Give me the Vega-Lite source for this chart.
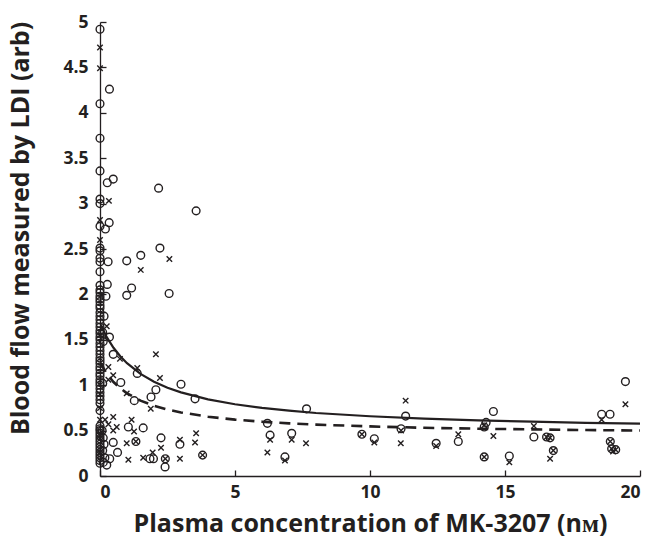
{
  "$schema": "https://vega.github.io/schema/vega-lite/v6.json",
  "autosize": {"type": "none"},
  "padding": {"left": 100, "top": 22, "right": 14, "bottom": 64},
  "width": 540,
  "height": 454,
  "background": "white",
  "config": {
    "view": {"stroke": null},
    "axis": {
      "grid": false,
      "domainColor": "#231f20",
      "domainWidth": 1.3,
      "tickColor": "#231f20",
      "tickWidth": 1.3,
      "labelColor": "#231f20",
      "labelFont": "Open Sans",
      "labelFontWeight": "bold",
      "labelFontSize": 17.5,
      "titleColor": "#231f20",
      "titleFont": "Open Sans",
      "titleFontWeight": "bold",
      "titleFontSize": 25
    }
  },
  "datasets": {
    "points": [
      {"x": 0, "y": 4.92, "g": "o"}, {"x": 0, "y": 4.10, "g": "o"}, {"x": 0, "y": 3.72, "g": "o"}, {"x": 0, "y": 3.36, "g": "o"},
      {"x": 0, "y": 3.05, "g": "o"}, {"x": 0, "y": 3.0, "g": "o"}, {"x": 0, "y": 2.75, "g": "o"}, {"x": 0, "y": 2.51, "g": "o"},
      {"x": 0, "y": 2.48, "g": "o"}, {"x": 0, "y": 2.40, "g": "o"}, {"x": 0, "y": 2.36, "g": "o"}, {"x": 0, "y": 2.25, "g": "o"},
      {"x": 0, "y": 2.10, "g": "o"}, {"x": 0, "y": 2.05, "g": "o"}, {"x": 0, "y": 2.02, "g": "o"}, {"x": 0, "y": 1.98, "g": "o"},
      {"x": 0, "y": 1.95, "g": "o"}, {"x": 0, "y": 1.92, "g": "o"}, {"x": 0, "y": 1.88, "g": "o"}, {"x": 0, "y": 1.85, "g": "o"},
      {"x": 0, "y": 1.80, "g": "o"}, {"x": 0, "y": 1.76, "g": "o"}, {"x": 0, "y": 1.72, "g": "o"}, {"x": 0, "y": 1.68, "g": "o"},
      {"x": 0, "y": 1.64, "g": "o"}, {"x": 0, "y": 1.60, "g": "o"}, {"x": 0, "y": 1.57, "g": "o"}, {"x": 0, "y": 1.53, "g": "o"},
      {"x": 0, "y": 1.50, "g": "o"}, {"x": 0, "y": 1.46, "g": "o"}, {"x": 0, "y": 1.42, "g": "o"}, {"x": 0, "y": 1.38, "g": "o"},
      {"x": 0, "y": 1.34, "g": "o"}, {"x": 0, "y": 1.30, "g": "o"}, {"x": 0, "y": 1.27, "g": "o"}, {"x": 0, "y": 1.24, "g": "o"},
      {"x": 0, "y": 1.20, "g": "o"}, {"x": 0, "y": 1.17, "g": "o"}, {"x": 0, "y": 1.13, "g": "o"}, {"x": 0, "y": 1.10, "g": "o"},
      {"x": 0, "y": 1.06, "g": "o"}, {"x": 0, "y": 1.03, "g": "o"}, {"x": 0, "y": 1.00, "g": "o"}, {"x": 0, "y": 0.96, "g": "o"},
      {"x": 0, "y": 0.92, "g": "o"}, {"x": 0, "y": 0.88, "g": "o"}, {"x": 0, "y": 0.84, "g": "o"}, {"x": 0, "y": 0.80, "g": "o"},
      {"x": 0, "y": 0.72, "g": "o"}, {"x": 0, "y": 0.55, "g": "o"}, {"x": 0, "y": 0.52, "g": "o"}, {"x": 0, "y": 0.50, "g": "o"},
      {"x": 0, "y": 0.47, "g": "o"}, {"x": 0, "y": 0.44, "g": "o"}, {"x": 0, "y": 0.41, "g": "o"}, {"x": 0, "y": 0.38, "g": "o"},
      {"x": 0, "y": 0.35, "g": "o"}, {"x": 0, "y": 0.32, "g": "o"}, {"x": 0, "y": 0.29, "g": "o"}, {"x": 0, "y": 0.26, "g": "o"},
      {"x": 0, "y": 0.23, "g": "o"}, {"x": 0, "y": 0.20, "g": "o"}, {"x": 0, "y": 0.17, "g": "o"}, {"x": 0, "y": 0.14, "g": "o"},
      {"x": 0.1, "y": 1.58, "g": "o"}, {"x": 0.12, "y": 1.48, "g": "o"}, {"x": 0.1, "y": 1.02, "g": "o"}, {"x": 0.08, "y": 0.5, "g": "o"},
      {"x": 0.12, "y": 0.42, "g": "o"}, {"x": 0.15, "y": 0.35, "g": "o"}, {"x": 0.1, "y": 0.28, "g": "o"}, {"x": 0.18, "y": 0.2, "g": "o"},
      {"x": 0.12, "y": 0.15, "g": "o"},
      {"x": 0.35, "y": 4.26, "g": "o"}, {"x": 0.27, "y": 3.23, "g": "o"}, {"x": 0.49, "y": 3.27, "g": "o"}, {"x": 2.17, "y": 3.17, "g": "o"},
      {"x": 3.56, "y": 2.92, "g": "o"}, {"x": 0.34, "y": 2.79, "g": "o"}, {"x": 0.2, "y": 2.72, "g": "o"}, {"x": 2.22, "y": 2.51, "g": "o"},
      {"x": 1.51, "y": 2.43, "g": "o"}, {"x": 0.99, "y": 2.37, "g": "o"}, {"x": 0.3, "y": 2.36, "g": "o"}, {"x": 0.27, "y": 2.11, "g": "o"},
      {"x": 1.17, "y": 2.07, "g": "o"}, {"x": 0.99, "y": 1.99, "g": "o"}, {"x": 0.22, "y": 1.98, "g": "o"}, {"x": 2.56, "y": 2.01, "g": "o"},
      {"x": 0.15, "y": 1.76, "g": "o"}, {"x": 0.35, "y": 1.53, "g": "o"}, {"x": 0.49, "y": 1.34, "g": "o"}, {"x": 1.38, "y": 1.13, "g": "o"},
      {"x": 0.77, "y": 1.03, "g": "o"}, {"x": 3.0, "y": 1.01, "g": "o"}, {"x": 2.07, "y": 0.95, "g": "o"}, {"x": 1.89, "y": 0.87, "g": "o"},
      {"x": 3.52, "y": 0.85, "g": "o"}, {"x": 1.27, "y": 0.83, "g": "o"}, {"x": 1.05, "y": 0.54, "g": "o"}, {"x": 1.6, "y": 0.53, "g": "o"},
      {"x": 0.49, "y": 0.37, "g": "o"}, {"x": 1.33, "y": 0.38, "g": "o"}, {"x": 2.26, "y": 0.42, "g": "o"}, {"x": 2.96, "y": 0.35, "g": "o"},
      {"x": 0.65, "y": 0.26, "g": "o"}, {"x": 1.98, "y": 0.19, "g": "o"}, {"x": 2.42, "y": 0.19, "g": "o"}, {"x": 2.41, "y": 0.10, "g": "o"},
      {"x": 1.85, "y": 0.19, "g": "o"}, {"x": 3.8, "y": 0.23, "g": "o"}, {"x": 0.25, "y": 0.12, "g": "o"}, {"x": 0.36, "y": 0.19, "g": "o"},
      {"x": 6.2, "y": 0.58, "g": "o"}, {"x": 6.3, "y": 0.45, "g": "o"}, {"x": 7.65, "y": 0.74, "g": "o"}, {"x": 7.1, "y": 0.47, "g": "o"},
      {"x": 6.85, "y": 0.21, "g": "o"}, {"x": 9.7, "y": 0.46, "g": "o"}, {"x": 10.16, "y": 0.41, "g": "o"}, {"x": 11.32, "y": 0.66, "g": "o"},
      {"x": 11.15, "y": 0.52, "g": "o"}, {"x": 12.45, "y": 0.36, "g": "o"}, {"x": 13.27, "y": 0.38, "g": "o"}, {"x": 14.57, "y": 0.71, "g": "o"},
      {"x": 14.23, "y": 0.54, "g": "o"}, {"x": 14.3, "y": 0.59, "g": "o"}, {"x": 14.23, "y": 0.21, "g": "o"}, {"x": 15.16, "y": 0.22, "g": "o"},
      {"x": 16.07, "y": 0.43, "g": "o"}, {"x": 16.54, "y": 0.43, "g": "o"}, {"x": 16.67, "y": 0.42, "g": "o"}, {"x": 16.79, "y": 0.28, "g": "o"},
      {"x": 18.58, "y": 0.68, "g": "o"}, {"x": 18.89, "y": 0.68, "g": "o"}, {"x": 19.46, "y": 1.04, "g": "o"}, {"x": 18.9, "y": 0.38, "g": "o"},
      {"x": 18.95, "y": 0.30, "g": "o"}, {"x": 19.1, "y": 0.29, "g": "o"},
      {"x": 0, "y": 4.72, "g": "x"}, {"x": 0, "y": 4.49, "g": "x"}, {"x": 0, "y": 2.82, "g": "x"}, {"x": 0, "y": 2.60, "g": "x"},
      {"x": 0, "y": 1.55, "g": "x"}, {"x": 0, "y": 0.9, "g": "x"}, {"x": 0, "y": 0.75, "g": "x"}, {"x": 0, "y": 0.62, "g": "x"},
      {"x": 0, "y": 0.45, "g": "x"}, {"x": 0, "y": 0.25, "g": "x"},
      {"x": 0.33, "y": 3.03, "g": "x"}, {"x": 2.57, "y": 2.39, "g": "x"}, {"x": 1.51, "y": 2.27, "g": "x"}, {"x": 0.25, "y": 1.65, "g": "x"},
      {"x": 2.07, "y": 1.34, "g": "x"}, {"x": 0.31, "y": 1.20, "g": "x"}, {"x": 0.74, "y": 1.29, "g": "x"}, {"x": 1.38, "y": 1.19, "g": "x"},
      {"x": 0.49, "y": 1.11, "g": "x"}, {"x": 0.31, "y": 1.06, "g": "x"}, {"x": 2.22, "y": 1.08, "g": "x"}, {"x": 0.99, "y": 0.91, "g": "x"},
      {"x": 1.88, "y": 0.74, "g": "x"}, {"x": 0.19, "y": 0.62, "g": "x"}, {"x": 0.49, "y": 0.65, "g": "x"}, {"x": 1.17, "y": 0.62, "g": "x"},
      {"x": 0.31, "y": 0.57, "g": "x"}, {"x": 0.62, "y": 0.54, "g": "x"}, {"x": 0.49, "y": 0.50, "g": "x"}, {"x": 1.26, "y": 0.49, "g": "x"},
      {"x": 0.99, "y": 0.36, "g": "x"}, {"x": 1.33, "y": 0.38, "g": "x"}, {"x": 2.26, "y": 0.31, "g": "x"}, {"x": 2.96, "y": 0.40, "g": "x"},
      {"x": 3.56, "y": 0.47, "g": "x"}, {"x": 3.52, "y": 0.37, "g": "x"}, {"x": 1.05, "y": 0.18, "g": "x"}, {"x": 1.6, "y": 0.20, "g": "x"},
      {"x": 1.95, "y": 0.26, "g": "x"}, {"x": 2.42, "y": 0.19, "g": "x"}, {"x": 2.96, "y": 0.19, "g": "x"}, {"x": 3.8, "y": 0.23, "g": "x"},
      {"x": 6.3, "y": 0.40, "g": "x"}, {"x": 6.2, "y": 0.26, "g": "x"}, {"x": 7.1, "y": 0.40, "g": "x"}, {"x": 7.63, "y": 0.36, "g": "x"},
      {"x": 6.85, "y": 0.17, "g": "x"}, {"x": 9.7, "y": 0.46, "g": "x"}, {"x": 10.16, "y": 0.37, "g": "x"}, {"x": 11.32, "y": 0.83, "g": "x"},
      {"x": 11.15, "y": 0.50, "g": "x"}, {"x": 11.14, "y": 0.36, "g": "x"}, {"x": 12.45, "y": 0.33, "g": "x"}, {"x": 13.27, "y": 0.46, "g": "x"},
      {"x": 14.57, "y": 0.44, "g": "x"}, {"x": 14.23, "y": 0.21, "g": "x"}, {"x": 14.23, "y": 0.56, "g": "x"}, {"x": 15.16, "y": 0.15, "g": "x"},
      {"x": 16.07, "y": 0.55, "g": "x"}, {"x": 16.54, "y": 0.43, "g": "x"}, {"x": 16.67, "y": 0.42, "g": "x"}, {"x": 16.79, "y": 0.28, "g": "x"},
      {"x": 16.67, "y": 0.19, "g": "x"}, {"x": 18.58, "y": 0.62, "g": "x"}, {"x": 19.46, "y": 0.79, "g": "x"}, {"x": 18.9, "y": 0.38, "g": "x"},
      {"x": 18.95, "y": 0.30, "g": "x"}, {"x": 19.1, "y": 0.29, "g": "x"}, {"x": 19.0, "y": 0.27, "g": "x"}
    ],
    "curves": [
      {"x": 0, "y": 1.68, "c": "solid"}, {"x": 0.25, "y": 1.529, "c": "solid"}, {"x": 0.5, "y": 1.412, "c": "solid"},
      {"x": 0.75, "y": 1.319, "c": "solid"}, {"x": 1, "y": 1.242, "c": "solid"}, {"x": 1.5, "y": 1.124, "c": "solid"},
      {"x": 2, "y": 1.038, "c": "solid"}, {"x": 2.5, "y": 0.972, "c": "solid"}, {"x": 3, "y": 0.921, "c": "solid"},
      {"x": 4, "y": 0.844, "c": "solid"}, {"x": 5, "y": 0.79, "c": "solid"}, {"x": 6, "y": 0.75, "c": "solid"},
      {"x": 7, "y": 0.719, "c": "solid"}, {"x": 8, "y": 0.694, "c": "solid"}, {"x": 10, "y": 0.658, "c": "solid"},
      {"x": 12, "y": 0.632, "c": "solid"}, {"x": 14, "y": 0.613, "c": "solid"}, {"x": 16, "y": 0.598, "c": "solid"},
      {"x": 18, "y": 0.586, "c": "solid"}, {"x": 20, "y": 0.576, "c": "solid"},
      {"x": 0, "y": 1.25, "c": "dashed"}, {"x": 0.25, "y": 1.126, "c": "dashed"}, {"x": 0.5, "y": 1.035, "c": "dashed"},
      {"x": 0.75, "y": 0.966, "c": "dashed"}, {"x": 1, "y": 0.911, "c": "dashed"}, {"x": 1.5, "y": 0.83, "c": "dashed"},
      {"x": 2, "y": 0.774, "c": "dashed"}, {"x": 2.5, "y": 0.732, "c": "dashed"}, {"x": 3, "y": 0.70, "c": "dashed"},
      {"x": 4, "y": 0.653, "c": "dashed"}, {"x": 5, "y": 0.621, "c": "dashed"}, {"x": 6, "y": 0.598, "c": "dashed"},
      {"x": 7, "y": 0.58, "c": "dashed"}, {"x": 8, "y": 0.566, "c": "dashed"}, {"x": 10, "y": 0.546, "c": "dashed"},
      {"x": 12, "y": 0.531, "c": "dashed"}, {"x": 14, "y": 0.521, "c": "dashed"}, {"x": 16, "y": 0.513, "c": "dashed"},
      {"x": 18, "y": 0.506, "c": "dashed"}, {"x": 20, "y": 0.501, "c": "dashed"}
    ]
  },
  "layer": [
    {
      "encoding": {
        "x": {
          "field": "x", "type": "quantitative",
          "scale": {"domain": [0, 20], "nice": false, "zero": false},
          "axis": {
            "orient": "bottom",
            "values": [0, 5, 10, 15, 20],
            "format": "~g",
            "ticks": false,
            "labelPadding": 7,
            "title": "Plasma concentration of MK-3207 (nᴍ)",
            "titleX": 270, "titleY": 47, "titleBaseline": "middle", "titleAlign": "center"
          }
        },
        "y": {
          "field": "y", "type": "quantitative",
          "scale": {"domain": [0, 5], "nice": false, "zero": false},
          "axis": {
            "orient": "left",
            "values": [0, 0.5, 1, 1.5, 2, 2.5, 3, 3.5, 4, 4.5, 5],
            "format": "~g",
            "ticks": false,
            "labelPadding": 12,
            "title": "Blood flow measured by LDI (arb)",
            "titleX": -80, "titleY": 206, "titleAngle": -90, "titleBaseline": "middle", "titleAlign": "center"
          }
        }
      },
      "layer": [
        {
          "data": {"name": "curves"},
          "transform": [{"filter": "datum.c === 'solid'"}],
          "mark": {"type": "line", "color": "#231f20", "strokeWidth": 2.2, "clip": true}
        },
        {
          "data": {"name": "curves"},
          "transform": [{"filter": "datum.c === 'dashed'"}],
          "mark": {"type": "line", "color": "#231f20", "strokeWidth": 2.6, "strokeDash": [11, 7], "clip": true}
        },
        {
          "data": {"name": "points"},
          "transform": [{"filter": "datum.g === 'o'"}],
          "mark": {"type": "point", "shape": "circle", "filled": false, "size": 60, "stroke": "#231f20", "strokeWidth": 1.4, "opacity": 1}
        },
        {
          "data": {"name": "points"},
          "transform": [{"filter": "datum.g === 'x'"}],
          "mark": {"type": "point", "shape": "M-1,-1L1,1M-1,1L1,-1", "filled": false, "size": 30, "stroke": "#231f20", "strokeWidth": 1.4, "opacity": 1}
        }
      ]
    },
    {
      "data": {"name": "curves"},
      "transform": [{"filter": "datum.c === 'solid'"}],
      "mark": {"type": "line", "opacity": 0},
      "encoding": {
        "x": {
          "field": "x", "type": "quantitative",
          "scale": {"domain": [0, 20], "nice": false, "zero": false},
          "axis": {
            "orient": "bottom", "offset": -6, "values": [0, 5, 10, 15, 20],
            "domain": false, "labels": false, "title": null, "ticks": true, "tickSize": 6
          }
        },
        "y": {
          "field": "y", "type": "quantitative",
          "scale": {"domain": [0, 5], "nice": false, "zero": false},
          "axis": {
            "orient": "left", "offset": -6, "values": [0, 0.5, 1, 1.5, 2, 2.5, 3, 3.5, 4, 4.5, 5],
            "domain": false, "labels": false, "title": null, "ticks": true, "tickSize": 6
          }
        }
      }
    }
  ],
  "resolve": {"axis": {"x": "independent", "y": "independent"}}
}
